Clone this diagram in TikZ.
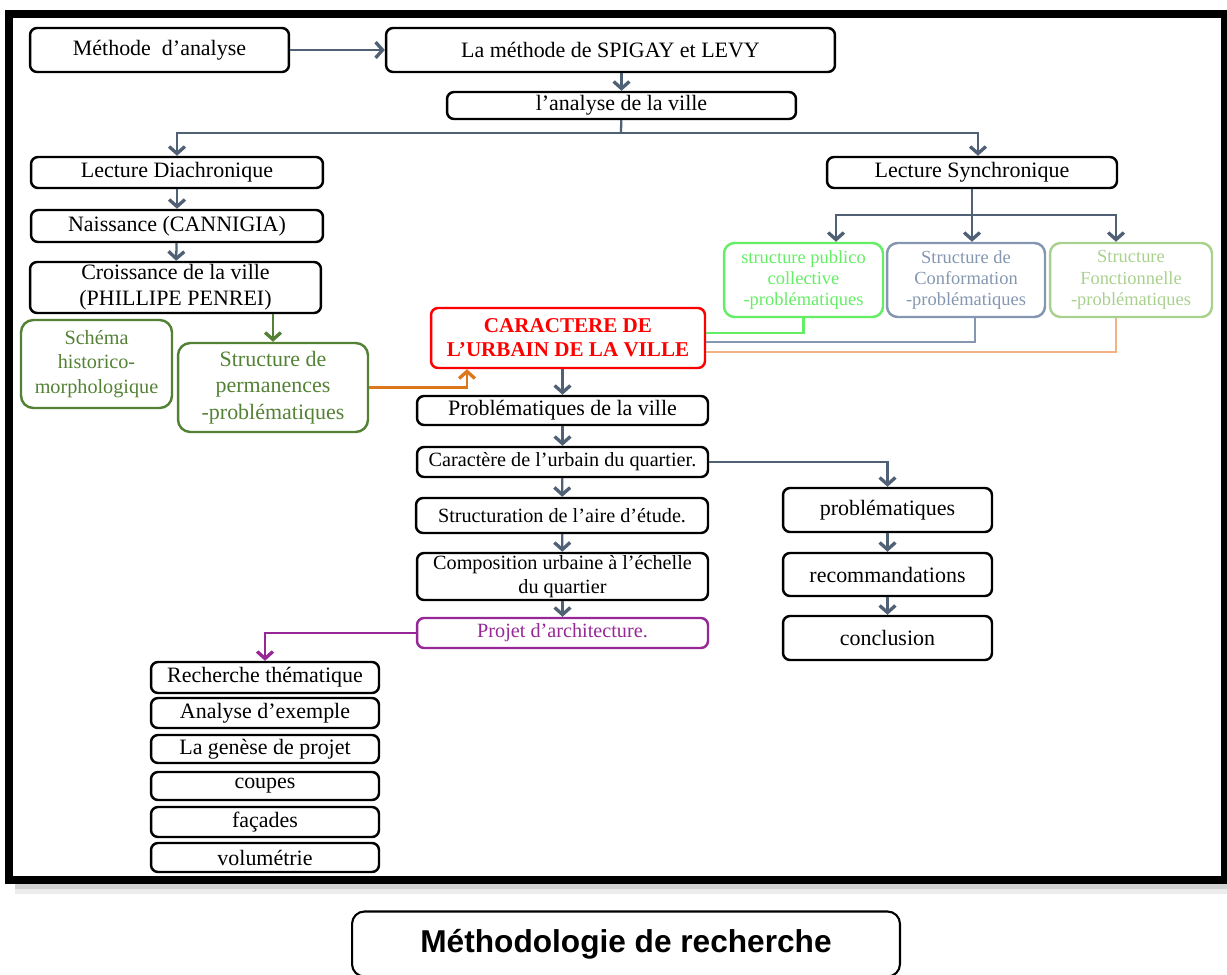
\documentclass[tikz,border=0pt]{standalone}
\usepackage{fontspec}
\setmainfont{Liberation Serif}
\newfontfamily\titlefont{Liberation Sans}
\usetikzlibrary{arrows.meta,positioning,calc}
\definecolor{lineblue}{RGB}{80,97,118}
\definecolor{darkgreen}{RGB}{84,130,53}
\definecolor{arrorange}{RGB}{222,118,28}
\definecolor{brightgreen}{RGB}{100,238,100}
\definecolor{slategrey}{RGB}{132,150,176}
\definecolor{palegreen}{RGB}{169,209,142}
\definecolor{paleorange}{RGB}{244,177,131}
\definecolor{projpurple}{RGB}{150,40,150}
\tikzset{
  box/.style={draw, line width=1.4pt, rounded corners=4pt, align=center, inner sep=0pt,
    font=\fontsize{12.5}{15}\selectfont},
  sbox/.style={box, font=\fontsize{11.5}{13.5}\selectfont},
  tbox/.style={box, rounded corners=6pt, font=\fontsize{10.5}{12.2}\selectfont,
    minimum width=3.18cm, minimum height=1.48cm},
  lbox/.style={box, minimum width=4.56cm},
  rbox/.style={box, minimum width=4.18cm, minimum height=0.88cm},
  cbox/.style={box, minimum width=5.82cm},
  conn/.style={line width=1.3pt, draw=lineblue,
    -{Straight Barb[length=4pt,width=9pt,line width=1.9pt]}},
}

\begin{document}
\begin{tikzpicture}[x=0.02cm, y=-0.02cm]
	\useasboundingbox (0,0) rectangle (1227,974);
	\fill[gray!35] (15,884) rectangle (1227,889);
	\fill[gray!15] (15,889) rectangle (1227,894);
	\draw[line width=4.5pt] (9,14) rectangle (1225,880);
	
	\node[box, minimum width=5.18cm, minimum height=0.88cm] (MA) at (159.5,50) {Méthode~ d’analyse};
	\node[box, minimum width=8.98cm, minimum height=0.88cm] (SL) at (610.5,50) {La méthode de SPIGAY et LEVY};
	\node[box, minimum width=6.98cm, minimum height=0.54cm] (AV) at (621.5,105.5) {l’analyse de la ville};
	
	\node[box, minimum width=5.84cm, minimum height=0.62cm] (LD) at (177,172.5) {Lecture Diachronique};
	\node[box, minimum width=5.84cm, minimum height=0.64cm] (NC) at (177,226) {Naissance (CANNIGIA)};
	\node[box, minimum width=5.82cm, minimum height=1.02cm] (CV) at (175.5,287.5) {Croissance de la ville\\(PHILLIPE PENREI)};
	\node[box, draw=darkgreen, text=darkgreen, rounded corners=7pt, font=\fontsize{11.5}{14}\selectfont,
		minimum width=3.02cm, minimum height=1.76cm] (SH) at (96.5,364) {Schéma\\historico-\\morphologique};
	\node[box, draw=darkgreen, text=darkgreen, rounded corners=7pt,
		minimum width=3.8cm, minimum height=1.78cm] (SP) at (273,387.5) {Structure de\\permanences\\-problématiques};
	
	\node[box, draw=red, text=red, font=\bfseries\fontsize{12}{13.6}\selectfont,
		minimum width=5.48cm, minimum height=1.2cm] (CU) at (568,338) {CARACTERE DE\\L’URBAIN DE LA VILLE};
	
	\node[box, minimum width=5.8cm, minimum height=0.62cm] (LS) at (972,172.5) {Lecture Synchronique};
	\node[tbox, draw=brightgreen, text=brightgreen] (SPC) at (803.5,280) {structure publico\\collective\\-problématiques};
	\node[tbox, draw=slategrey, text=slategrey, minimum width=3.16cm] (SC) at (966,280) {Structure de\\Conformation\\-problématiques};
	\node[tbox, draw=palegreen, text=palegreen, minimum width=3.24cm] (SF) at (1131,280) {Structure\\Fonctionnelle\\-problématiques};
	
	\node[cbox, minimum height=0.58cm] (PV) at (562.5,410.5) {Problématiques de la ville};
	\node[cbox, sbox, minimum height=0.6cm] (CQ) at (562.5,462) {Caractère de l’urbain du quartier.};
	\node[cbox, sbox, minimum width=5.84cm, minimum height=0.7cm] (SA) at (562,515.5) {Structuration de l’aire d’étude.};
	\node[cbox, sbox, minimum height=0.94cm] (CO) at (562.5,576.5) {Composition urbaine à l’échelle\\du quartier};
	\node[cbox, sbox, draw=projpurple, text=projpurple, minimum height=0.6cm] (PA) at (562.5,633) {Projet d’architecture.};
	
	\node[rbox] (PB) at (887.5,510) {problématiques};
	\node[rbox, minimum height=0.86cm] (RE) at (887.5,574.5) {recommandations};
	\node[rbox] (CC) at (887.5,638) {conclusion};
	
	\node[lbox, minimum height=0.62cm] (RT) at (265,677.5) {Recherche thématique};
	\node[lbox, minimum height=0.6cm] (AE) at (265,713) {Analyse d’exemple};
	\node[lbox, minimum height=0.56cm] (GP) at (265,749) {La genèse de projet};
	\node[lbox, minimum height=0.56cm] (CP) at (265,786) {coupes};
	\node[lbox, minimum height=0.6cm] (FA) at (265,822) {façades};
	\node[lbox, minimum height=0.58cm] (VO) at (265,857.5) {volumétrie};
	
	\node[box, line width=1.2pt, rounded corners=7pt, minimum width=10.96cm, minimum height=1.3cm,
		font=\titlefont\bfseries\fontsize{18}{20}\selectfont] (MR) at (626,944) {Méthodologie de recherche};
	
	\coordinate (T) at (621,133);
	\coordinate (S) at (972,215);
	\coordinate (S1) at (836,215);
	\coordinate (S3) at (1116,215);
	
	\draw[conn] (MA) -- (SL);
	\draw[conn] (SL.south -| AV) -- (AV);
	\draw[line width=1.3pt, lineblue] (AV) -- (T);
	\draw[conn] (T) -| (LD);
	\draw[conn] (T) -| ($(LS.north)+(6,0)$);
	\draw[conn] (LD) -- (NC);
	\draw[conn] (NC) -- (CV);
	\draw[conn, darkgreen] (SP.north |- CV.south) -- (SP);
	\draw[conn, arrorange] (SP) -| ($(CU.south)+(-101,0)$);
	
	\draw[line width=1.3pt, lineblue] (LS) -- (S);
	\draw[conn] (S) -- (S1) -- (S1 |- SPC.north);
	\draw[conn] (S) -- (S |- SC.north);
	\draw[conn] (S) -- (S3) -- (S3 |- SF.north);
	\draw[line width=1.3pt, brightgreen] (SPC.south) |- ($(CU.east)+(0,-5)$);
	\draw[line width=1.3pt, slategrey] ($(SC.south)+(9,0)$) |- ($(CU.east)+(0,4)$);
	\draw[line width=1.3pt, paleorange] ($(SF.south)+(-15,0)$) |- ($(CU.east)+(0,14)$);
	
	\draw[conn] (CU.south -| PV) -- (PV);
	\draw[conn] (PV) -- (CQ);
	\draw[conn] (CQ) -- (SA);
	\draw[conn] (SA) -- (CO);
	\draw[conn] (CO) -- (PA);
	\draw[conn, projpurple] (PA) -| (RT);
	
	\draw[conn] (CQ) -| (PB);
	\draw[conn] (PB) -- (RE);
	\draw[conn] (RE) -- (CC);
\end{tikzpicture}
\end{document}
